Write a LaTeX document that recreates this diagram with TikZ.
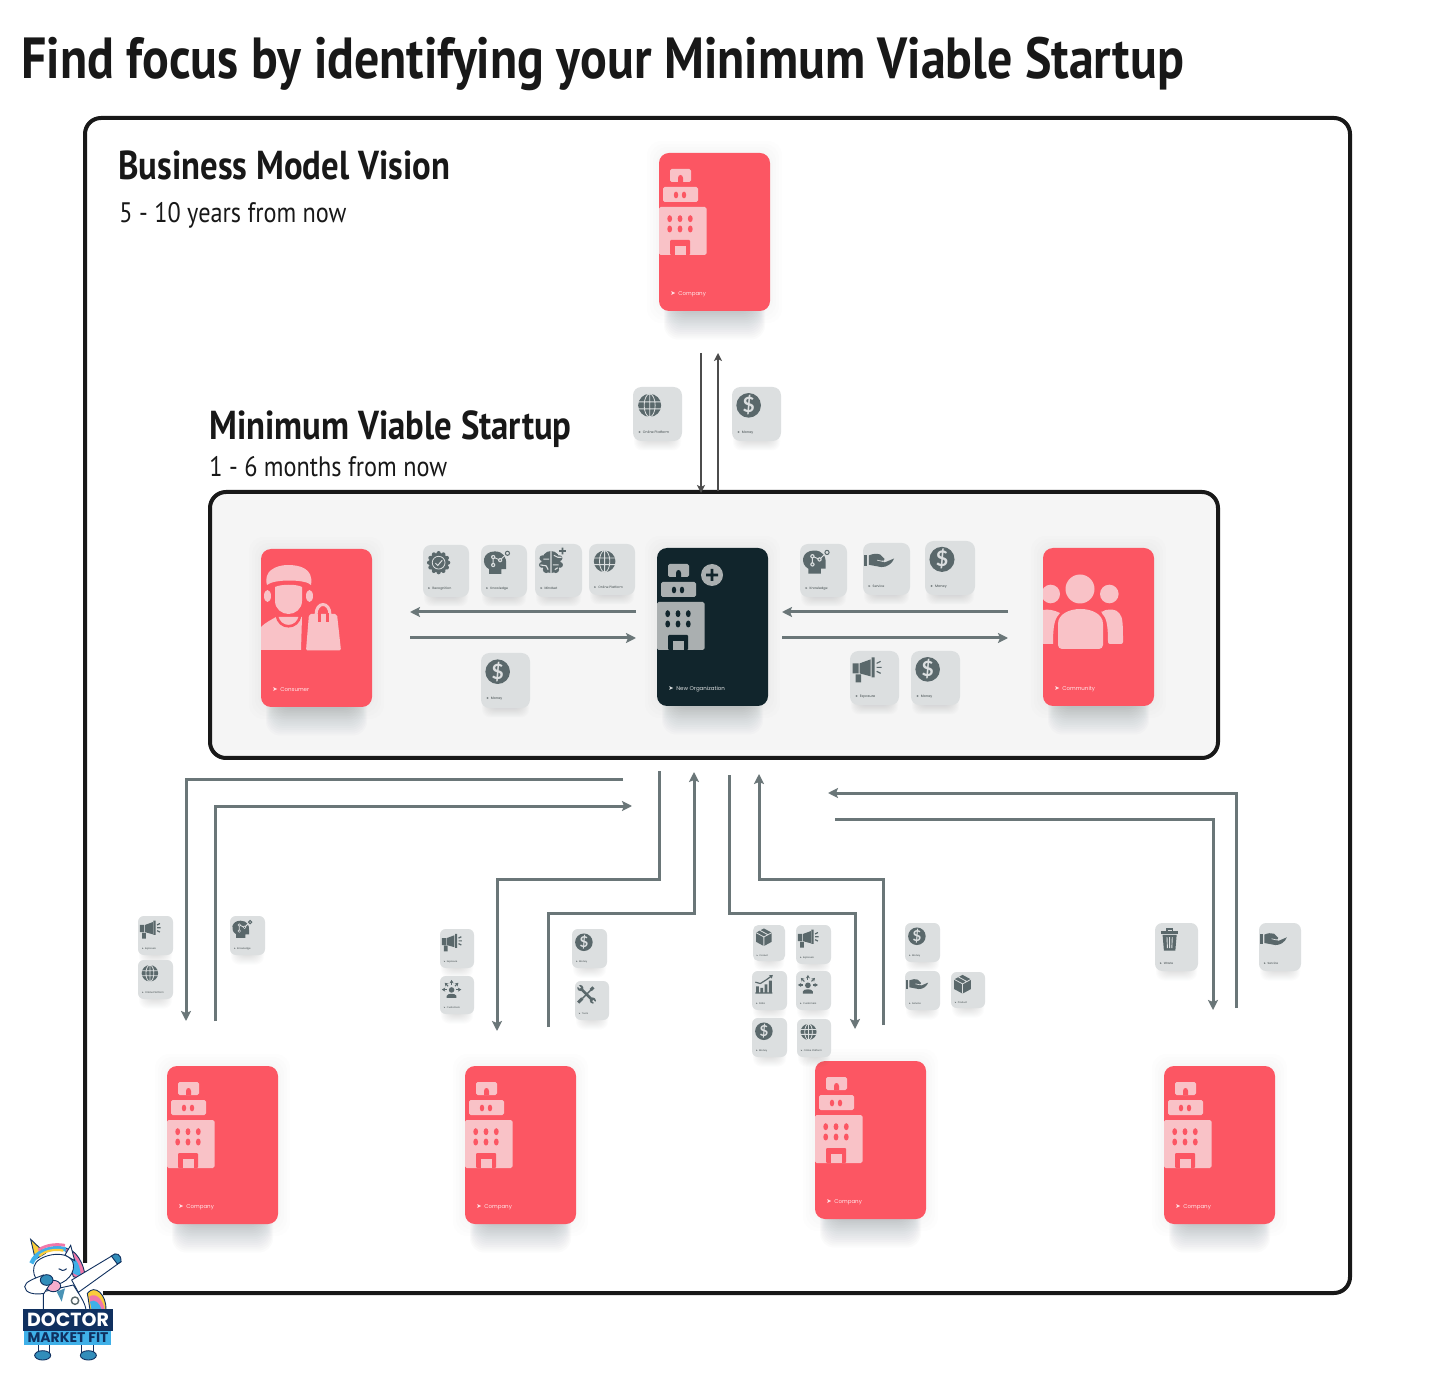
\documentclass[tikz,border=0pt]{standalone}
\usepackage{xcolor}
\usepackage{fontspec}
\usetikzlibrary{arrows.meta, calc}
\setmainfont{Lato}
\newfontfamily\headfont[FakeStretch=0.86]{PT Sans}
\newfontfamily\smallfont{Poppins}
\newfontfamily\arrowfont{DejaVu Sans}
\definecolor{framedark}{RGB}{24, 24, 24}
\definecolor{cardred}{RGB}{252, 86, 99}
\definecolor{cardpink}{RGB}{249, 194, 199}
\definecolor{carddark}{RGB}{17, 37, 44}
\definecolor{buildgrey}{RGB}{170, 175, 176}
\definecolor{tilegrey}{RGB}{220, 223, 224}
\definecolor{iconslate}{RGB}{90, 104, 107}
\definecolor{arrowslate}{RGB}{106, 118, 120}
\definecolor{shadowgrey}{RGB}{70, 85, 95}
\definecolor{logonavy}{RGB}{16, 48, 95}
\definecolor{logoblue}{RGB}{63, 176, 232}
\definecolor{logopink}{RGB}{240, 120, 170}
\definecolor{logoyellow}{RGB}{250, 205, 60}

\tikzset{
    headtext/.style={anchor=base west, inner sep=0pt, text=framedark},
    bigbox/.style={draw=framedark, line width=2pt, rounded corners=8pt, anchor=north west, inner sep=0pt, outer sep=0pt},
    cardlayer/.style={fill=shadowgrey, opacity=.019, rounded corners=7pt},
    halolayer/.style={fill=shadowgrey, opacity=.007, rounded corners=7pt},
    tilelayer/.style={fill=shadowgrey, opacity=.015, rounded corners=4pt},
    cardbox/.style={minimum width=55.5pt, minimum height=79pt, rounded corners=5pt, inner sep=0pt, outer sep=0pt,
        anchor=north west},
    cardtext/.style={anchor=west, inner sep=0pt, text=white, opacity=.85, font=\smallfont\fontsize{2.75}{4}\selectfont},
    tilebox/.style={fill=tilegrey, inner sep=0pt, outer sep=0pt, anchor=north west},
    tiletext/.style={anchor=west, inner sep=0pt, text=iconslate!70!black, font=\smallfont\fontsize{1.7}{2}\selectfont},
    flow/.style={draw=arrowslate, line width=1.5pt, -{Stealth[length=5pt, width=5pt, inset=1pt]}},
    thinflow/.style={draw=black!70, line width=.8pt, -{Stealth[length=4pt, width=4pt, inset=1pt]}},
    pics/buildingicon/.style 2 args={code={
        \fill[#1, rounded corners=.8pt] (11,29) -- (11,16) -- (32,16) -- (32,29) -- cycle;
        \fill[#2] (19,29) -- (19,25) .. controls (19,21) and (24,21) .. (24,25) -- (24,29) -- cycle;
        \fill[#1, rounded corners=.8pt] (4,49) -- (4,34) -- (39,34) -- (39,49) -- cycle;
        \foreach \wx in {17,25} \fill[#2] (\wx,42) ellipse [x radius=2.2, y radius=3.4];
        \fill[#1, rounded corners=.8pt] (0,102) -- (0,54) -- (47.5,54) -- (47.5,102) -- cycle;
        \foreach \wx in {10.7,21,31.3} \foreach \wy in {65.7,76}
            \fill[#2] (\wx,\wy) ellipse [x radius=2.4, y radius=3.5];
        \fill[#2, rounded corners=.5pt] (11,102) -- (11,87) -- (31,87) -- (31,102) -- cycle;
        \fill[#1] (16,93) rectangle (27,102);
    }},
    pics/plusbadge/.style={code={
        \fill[buildgrey] (0,0) circle (11);
        \fill[carddark] (-1.4,-6) rectangle (1.4,6) (-6,-1.4) rectangle (6,1.4);
    }},
    pics/consumericon/.style={code={
        \fill[cardpink] (6,36) .. controls (2,22) and (15,16) .. (27,16) .. controls (38,16) and (53,19) .. (50,36)
            .. controls (45,30) and (12,30) .. (6,36) -- cycle;
        \fill[cardpink] (14,38) .. controls (20,35) and (36,35) .. (41,38) -- (41,52)
            .. controls (41,60) and (34,65) .. (27.5,65) .. controls (21,65) and (14,60) .. (14,52) -- cycle;
        \fill[cardpink] (6.5,47) ellipse [x radius=3.5, y radius=6] (48.5,47) ellipse [x radius=3.5, y radius=6];
        \fill[cardpink] (0,78) .. controls (5,73) and (10,71) .. (15,68) -- (41,68) -- (40,101) -- (0,101) -- cycle;
        \draw[cardred, line width=1.3pt] (16,66) .. controls (17,81) and (38,81) .. (39,66);
        \fill[cardpink, rounded corners=1pt] (48,101.5) -- (45,101.5) -- (48,65) -- (76,65) -- (80,101.5) -- cycle;
        \draw[cardpink, line width=1.5pt] (55,66) .. controls (55,52) and (69,52) .. (69,66);
        \draw[cardred, line width=1.5pt] (58,64) -- (58,73) (66.5,64) -- (66.5,73);
    }},
    pics/communityicon/.style={code={
        \clip (0,0) rectangle (111,158);
        \fill[cardpink] (37,41) circle (14.5) (7.7,46) circle (9.3) (66.3,46) circle (9.3);
        \fill[cardpink, rounded corners=2pt] (15,101) -- (15,80) .. controls (15,56) and (60,56) .. (60,80) -- (60,101) -- cycle;
        \fill[cardpink] (0,62) .. controls (5,61) and (11,62) .. (17,65) .. controls (12,70) and (10,76) .. (10,96) -- (0,96) -- cycle;
        \fill[cardpink, rounded corners=1pt] (58,65) .. controls (62,61) and (71,61) .. (75,64) .. controls (80,69) and (80,78) .. (80,96) -- (65,96) .. controls (65,80) and (64,70) .. (58,65) -- cycle;
    }},
    pics/dollaricon/.style={code={
        \fill[iconslate] (0,0) circle (12.3);
        \node[inner sep=0pt, text=tilegrey, scale=\tilescale, font=\bfseries\fontsize{10.5}{12}\selectfont] (sign) at (0,0) {\$};
    }},
    pics/globeicon/.style={code={
        \fill[iconslate] (0,0) circle (11.5);
        \draw[tilegrey, line width=.4pt] (-11.5,-3.5) -- (11.5,-3.5) (-11.5,3.5) -- (11.5,3.5) (0,-11.5) -- (0,11.5)
            (0,0) ellipse [x radius=5.5, y radius=11.5];
    }},
    pics/megaphoneicon/.style={code={
        \fill[iconslate] (-14,-6) rectangle (-8,4) (-11,5) rectangle (-5.5,13) (5,-12) rectangle (8,8);
        \fill[iconslate] (-7,-6) -- (4,-10) -- (4,7) -- (-7,4) -- cycle;
        \draw[iconslate, line width=.6pt] (10,-6) -- (14,-8) (10,-2) -- (15,-2) (10,2) -- (14,4);
    }},
    pics/headicon/.style={code={
        \fill[iconslate] (-8,12) -- (-8,7) .. controls (-17,2) and (-15,-12) .. (-2,-12) .. controls (7,-12) and (11,-6) .. (10,3)
            -- (10,7) -- (5,7) -- (5,12) -- cycle;
        \draw[tilegrey, line width=.45pt] (-3.7,2.5) -- (-3.7,-6) -- (3.7,-2.7) -- (10,-9);
        \fill[tilegrey] (-3.7,-6) circle (2.3) (-3.7,2.5) circle (2.3) (3.7,-2.7) circle (2.3);
        \fill[iconslate] (-3.7,-6) circle (1) (-3.7,2.5) circle (1) (3.7,-2.7) circle (1);
        \draw[iconslate, fill=tilegrey, line width=.5pt] (11.5,-10) circle (2.2);
    }},
    pics/badgeicon/.style={code={
        \fill[iconslate] (0,0) circle (10.5);
        \foreach \ang in {0,30,...,330} \fill[iconslate] (\ang:10.2) circle (2.2);
        \draw[tilegrey, line width=.4pt] (0,0) circle (6.8);
        \draw[tilegrey, line width=.5pt] (-3.5,.5) -- (-1,3) -- (3.8,-2.5);
    }},
    pics/brainicon/.style={code={
        \fill[iconslate] (0,0) ellipse [x radius=10, y radius=11.5];
        \fill[iconslate] (-9,-4) circle (3) (-9.5,3) circle (3) (-5,8) circle (3.5) (9,-4) circle (3) (9.5,3) circle (3) (5,8) circle (3.5);
        \draw[tilegrey, line width=.55pt] (0,-12) -- (0,12) (-8,-3) -- (-2,-3) (-11,3) -- (-5,4) -- (-3,8) (2,3) -- (8,3) (3,-7) -- (7,-5) -- (11,-5) (4,8) -- (7,6);
        \fill[iconslate] (11,-15) rectangle (13,-8) (8.5,-12.5) rectangle (15.5,-10.5);
    }},
    pics/handicon/.style={code={
        \fill[iconslate] (-15.5,-6) rectangle (-12,6);
        \fill[iconslate] (-10.5,-5.5) .. controls (-6,-7.5) and (-2,-7.5) .. (1,-6.5) -- (5.8,-1.7) .. controls (6.5,0) and (4,.5) .. (2,0)
            -- (6,1.8) -- (15.8,-2.3) .. controls (14,3) and (8,7) .. (2.5,6.7) -- (-10.5,4.3) -- cycle;
        \draw[tilegrey, line width=.35pt] (-2,-.6) -- (4,.8);
    }},
    pics/boxicon/.style={code={
        \fill[iconslate] (0,-13.5) -- (12,-7) -- (12,7) -- (0,13.5) -- (-12,7) -- (-12,-7) -- cycle;
        \draw[tilegrey, line width=.4pt] (-12,-7) -- (0,-.5) -- (12,-7) (0,-.5) -- (0,13.5) (-6,-10.5) -- (6,-4);
    }},
    pics/charticon/.style={code={
        \fill[iconslate] (-12,11.5) rectangle (12,13) (-11,3) rectangle (-7,11.5) (-5,5) rectangle (-1,11.5)
            (1,0) rectangle (5,11.5) (7,-5) rectangle (11,11.5);
        \draw[iconslate, line width=.6pt] (-12,-3) -- (-5,-1) -- (3,-6) -- (10,-11);
        \fill[iconslate] (12.5,-13) -- (7,-12.5) -- (11,-8) -- cycle;
    }},
    pics/peopleicon/.style={code={
        \fill[iconslate] (0,1.5) circle (4);
        \fill[iconslate] (-7,13) -- (-7,10) .. controls (-6,6) and (6,6) .. (7,10) -- (7,13) -- cycle;
        \foreach \ang in {0,-45,-90,-135,180}
            \draw[iconslate, line width=.55pt, -{Stealth[length=1.7pt, width=2pt]}] ($(0,1)+(\ang:7)$) -- ($(0,1)+(\ang:14)$);
    }},
    pics/toolsicon/.style={code={
        \draw[iconslate, line width=1.3pt] (-9,-9) -- (9,9);
        \fill[iconslate] (-9,-9) circle (4.4) (9,9) circle (4.4);
        \draw[tilegrey, line width=.8pt] (-13,-13) -- (-9,-9) (13,13) -- (9,9);
        \draw[iconslate, line width=1.5pt] (-12,12) -- (-6,6);
        \draw[iconslate, line width=.7pt] (-6,6) -- (7,-7);
        \draw[iconslate, line width=1.5pt] (6,-6) -- (10,-10);
    }},
    pics/trashicon/.style={code={
        \fill[iconslate] (-4,-9) -- (-4,-12.5) -- (4,-12.5) -- (4,-9) -- cycle;
        \fill[tilegrey] (-2.2,-9) rectangle (2.2,-11);
        \fill[iconslate] (-10,-9) rectangle (10,-6.2);
        \fill[iconslate] (-8,-5) -- (8,-5) -- (6.5,13) -- (-6.5,13) -- cycle;
        \draw[tilegrey, line width=.45pt] (-3,-2.5) -- (-2.5,10) (0,-2.5) -- (0,10) (3,-2.5) -- (2.5,10);
    }},
}

% name, x, y, fill, label
\newcommand{\card}[5]{
    \foreach \k in {1,...,4}
        \path[halolayer] ($(#2,#3)-(\k*3,\k*3)$) rectangle ($(#2,#3)+(111+\k*3,158+\k*3)$);
    \foreach \k in {1,...,15}
        \path[cardlayer] ($(#2,#3)+(17-\k*.8,110)$) rectangle ($(#2,#3)+(94+\k*.8,158+\k*1.9)$);
    \node[cardbox, fill=#4] (#1) at (#2,#3) {};
    \node[cardtext] (#1text) at ($(#1.north west)+(11,141)$) {{\arrowfont\fontsize{3.2}{4}\selectfont ➤}\hspace{1.3pt}#5};
}
% name, x, y, w, h, icon, label
\newcommand{\tile}[7]{
    \pgfmathsetmacro\tilescale{#4/49}
    \foreach \k in {1,...,10}
        \path[tilelayer] ($(#2,#3)+(9-\k*.8,20)$) rectangle ($(#2,#3)+(#4-9+\k*.8,#5+\k*.95)$);
    \node[tilebox, minimum width=#4*.5pt, minimum height=#5*.5pt, rounded corners=#4*.085pt] (#1) at (#2,#3) {};
    \pic[scale=\tilescale] at ($(#1.north west)+(.34*#4,.34*#5)$) {#6};
    \node[tiletext, scale=\tilescale] (#1text) at ($(#1.north west)+(.1*#4,.84*#5)$) {{\arrowfont\fontsize{1.6}{2}\selectfont ➤}\hspace{1pt}#7};
}

\begin{document}
\begin{tikzpicture}[x=.5pt, y=-.5pt]
    \useasboundingbox (0,0) rectangle (1456,1384);
    \fill[white] (0,0) rectangle (1456,1384);

    % headings
    \node[headtext, font=\headfont\bfseries\fontsize{29}{34}\selectfont] (title) at (21,79) {Find focus by identifying your Minimum Viable Startup};
    \node[bigbox, minimum width=632.5pt, minimum height=587.5pt] (visionframe) at (85,118) {};
    \node[headtext, font=\headfont\bfseries\fontsize{20.2}{24}\selectfont] (visionhead) at (118,180) {Business Model Vision};
    \node[headtext, font=\headfont\fontsize{14.1}{18}\selectfont] (visionsub) at (119,223) {5 - 10 years from now};
    \node[headtext, font=\headfont\bfseries\fontsize{20.2}{24}\selectfont] (startuphead) at (209,440) {Minimum Viable Startup};
    \node[headtext, font=\headfont\fontsize{14.1}{18}\selectfont] (startupsub) at (209,477) {1 - 6 months from now};
    \node[bigbox, fill=black!4, minimum width=504pt, minimum height=133pt] (startupbox) at (210,492) {};

    % companies and actors
    \card{vision}{659}{153}{cardred}{Company}
    \card{consumer}{261}{549}{cardred}{Consumer}
    \card{neworg}{657}{548}{carddark}{New Organization}
    \card{community}{1043}{548}{cardred}{Community}
    \card{companya}{167}{1066}{cardred}{Company}
    \card{companyb}{465}{1066}{cardred}{Company}
    \card{companyc}{815}{1061}{cardred}{Company}
    \card{companyd}{1164}{1066}{cardred}{Company}
    \pic at (vision.north west) {buildingicon={cardpink}{cardred}};
    \pic at (neworg.north west) {buildingicon={buildgrey}{carddark}};
    \pic at ($(neworg.north west)+(55,27)$) {plusbadge};
    \pic at (consumer.north west) {consumericon};
    \pic at (community.north west) {communityicon};
    \pic at (companya.north west) {buildingicon={cardpink}{cardred}};
    \pic at (companyb.north west) {buildingicon={cardpink}{cardred}};
    \pic at (companyc.north west) {buildingicon={cardpink}{cardred}};
    \pic at (companyd.north west) {buildingicon={cardpink}{cardred}};

    % flows, upper part
    \tile{visionplat}{633}{387}{49}{54}{globeicon}{Online Platform}
    \tile{visionmoney}{732}{387}{49}{54}{dollaricon}{Money}
    \tile{recognition}{423}{545}{46}{52}{badgeicon}{Recognition}
    \tile{knowleft}{481}{545}{46}{52}{headicon}{Knowledge}
    \tile{mindset}{535}{544}{47}{53}{brainicon}{Mindset}
    \tile{platleft}{589}{544}{46}{51}{globeicon}{Online Platform}
    \tile{moneyleft}{481}{653}{49}{55}{dollaricon}{Money}
    \tile{knowright}{800}{544}{47}{53}{headicon}{Knowledge}
    \tile{serviceright}{863}{543}{47}{52}{handicon}{Service}
    \tile{moneytop}{925}{541}{50}{54}{dollaricon}{Money}
    \tile{exposure}{850}{651}{49}{54}{megaphoneicon}{Exposure}
    \tile{moneybottom}{911}{651}{49}{54}{dollaricon}{Money}

    % flows, lower part
    \tile{aexpo}{138}{916}{35}{39}{megaphoneicon}{Exposure}
    \tile{aplat}{138}{960}{35}{39}{globeicon}{Online Platform}
    \tile{aknow}{230}{916}{35}{39}{headicon}{Knowledge}
    \tile{bexpo}{440}{929}{34}{39}{megaphoneicon}{Exposure}
    \tile{bcust}{440}{976}{34}{38}{peopleicon}{Customers}
    \tile{bmoney}{572}{929}{35}{39}{dollaricon}{Money}
    \tile{btools}{575}{981}{34}{39}{toolsicon}{Tools}
    \tile{cprod}{753}{925}{32}{36}{boxicon}{Product}
    \tile{cexpo}{796}{925}{35}{39}{megaphoneicon}{Exposure}
    \tile{cdata}{752}{971}{35}{39}{charticon}{Data}
    \tile{ccust}{796}{971}{35}{39}{peopleicon}{Customers}
    \tile{cmoney}{752}{1018}{35}{39}{dollaricon}{Money}
    \tile{cplat}{797}{1019}{34}{38}{globeicon}{Online Platform}
    \tile{cmoneyr}{905}{923}{35}{39}{dollaricon}{Money}
    \tile{cserv}{905}{971}{35}{39}{handicon}{Service}
    \tile{cprodr}{951}{972}{34}{36}{boxicon}{Product}
    \tile{dwaste}{1155}{923}{43}{48}{trashicon}{Waste}
    \tile{dserv}{1259}{923}{42}{48}{handicon}{Service}

    % connector ends
    \foreach \pname/\px/\py in {
        topdownS/701/353, topdownE/701/493, topupS/718/491, topupE/718/353,
        midllS/636/612, midllE/410/612, midlrS/410/638, midlrE/636/638,
        midrlS/1008/612, midrlE/782/612, midrrS/782/638, midrrE/1008/638,
        aoutS/623/779, aoutE/186/1021, ainS/215/1021, ainE/632/806,
        boutS/659/771, boutM/497/879, boutE/497/1031, binS/548/1027, binM/694/913, binE/694/772,
        coutS/729/775, coutM/855/913, coutE/855/1029, cinS/883/1025, cinM/759/879, cinE/759/774,
        dinS/1236/1008, dinE/828/793, doutS/835/819, doutE/1213/1010}
        \coordinate (\pname) at (\px,\py);

    \draw[thinflow] (topdownS) -- (topdownE);
    \draw[thinflow] (topupS) -- (topupE);
    \draw[flow] (midllS) -- (midllE);
    \draw[flow] (midlrS) -- (midlrE);
    \draw[flow] (midrlS) -- (midrlE);
    \draw[flow] (midrrS) -- (midrrE);
    \draw[flow] (aoutS) -| (aoutE);
    \draw[flow] (ainS) |- (ainE);
    \draw[flow] (boutS) |- (boutM) -- (boutE);
    \draw[flow] (binS) |- (binM) -- (binE);
    \draw[flow] (coutS) |- (coutM) -- (coutE);
    \draw[flow] (cinS) |- (cinM) -- (cinE);
    \draw[flow] (dinS) |- (dinE);
    \draw[flow] (doutS) -| (doutE);

    % logo
    \begin{scope}[shift={(10,1230)}, x=.1667pt, y=-.1667pt, draw=logonavy, line width=.45pt]
        \fill[white] (190,100) rectangle (279,240);
        \filldraw[fill=logoyellow] (232,190) .. controls (255,160) and (290,195) .. (288,240) -- (240,240) -- cycle;
        \fill[logopink] (238,200) .. controls (258,185) and (280,210) .. (284,240) -- (245,240) -- cycle;
        \fill[logoblue] (240,215) .. controls (255,205) and (270,220) .. (275,240) -- (245,240) -- cycle;
        \filldraw[fill=logopink] (165,55) .. controls (195,55) and (225,100) .. (226,150) -- (190,140) -- cycle;
        \fill[logoblue] (180,75) .. controls (200,85) and (212,110) .. (212,140) -- (190,130) -- cycle;
        \filldraw[fill=white] (100,185) -- (190,165) .. controls (205,190) and (225,215) .. (228,240) -- (100,240) -- cycle;
        \filldraw[fill=white] (185,150) -- (315,72) -- (333,95) -- (205,187) -- cycle;
        \filldraw[fill=logoblue!80!black] (304,78) .. controls (318,65) and (334,72) .. (333,95) -- (322,102) -- cycle;
        \filldraw[fill=white] (72,110) .. controls (78,75) and (170,55) .. (188,95) .. controls (200,125) and (170,165) .. (125,165) .. controls (90,165) and (65,145) .. (72,110) -- cycle;
        \filldraw[fill=white] (165,75) -- (182,46) -- (194,92) -- cycle;
        \filldraw[fill=logoyellow] (62,28) -- (76,88) -- (106,70) -- cycle;
        \draw[logoblue, line width=2.2pt] (64,100) .. controls (80,62) and (125,47) .. (168,58);
        \draw[logopink, line width=1.4pt] (85,60) .. controls (105,46) and (135,40) .. (165,46);
        \draw[logoyellow, line width=1.1pt] (88,78) .. controls (105,62) and (135,56) .. (160,62);
        \filldraw[fill=logopink!60] (130,168) ellipse [x radius=22, y radius=17];
        \draw[line width=.5pt] (146,116) .. controls (152,123) and (162,123) .. (170,116);
        \filldraw[fill=white] (102,190) .. controls (75,195) and (45,190) .. (44,170) .. controls (44,155) and (75,145) .. (100,135) -- (118,165) -- cycle;
        \filldraw[fill=logoblue!80!black] (110,150) ellipse [x radius=19, y radius=16];
        \fill[logoblue!60!iconslate] (140,185) -- (165,175) -- (155,215) -- cycle;
        \draw[iconslate, fill=white, line width=.7pt] (195,212) circle (11);
        \filldraw[fill=white] (85,340) rectangle (118,372) (215,340) rectangle (250,372);
        \filldraw[fill=logoblue!80!black] (98,376) ellipse [x radius=24, y radius=14] (235,376) ellipse [x radius=24, y radius=14];
        \fill[logonavy] (38,237) rectangle (310,303);
        \fill[logoblue] (42,303) rectangle (303,345);
    \end{scope}
    \node[inner sep=0pt, text=white, font=\smallfont\bfseries\fontsize{9.5}{10}\selectfont] (logotop) at (68,1320) {DOCTOR};
    \node[inner sep=0pt, text=logonavy, font=\smallfont\bfseries\fontsize{7}{8}\selectfont] (logobottom) at (68,1338) {MARKET FIT};
\end{tikzpicture}
\end{document}
